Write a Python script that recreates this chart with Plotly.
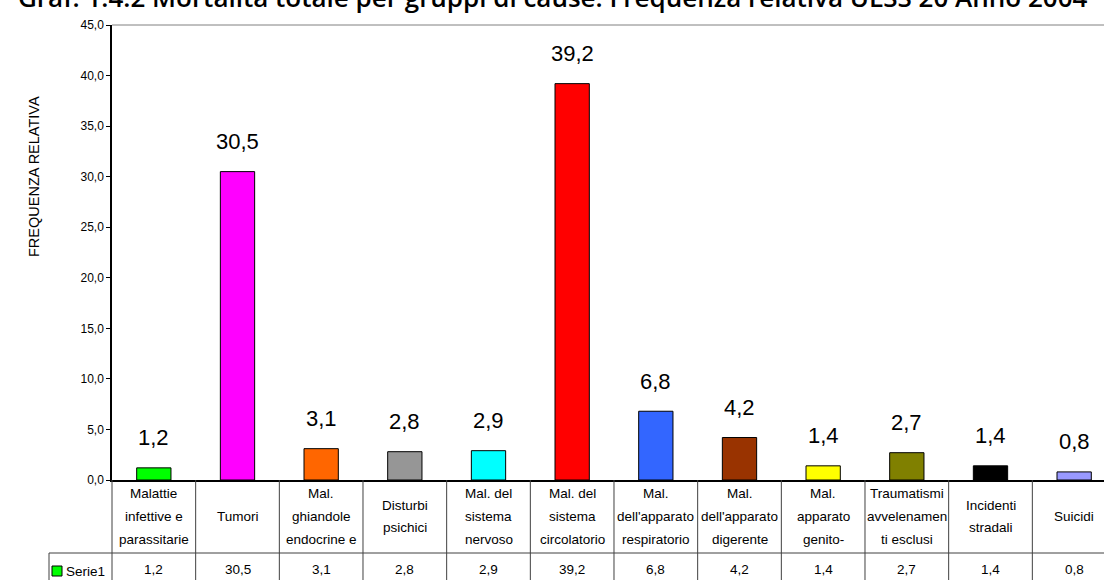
import plotly.graph_objects as go

# Mortality by cause groups, relative frequency (%)
categories = [
    "Malattie<br>infettive e<br>parassitarie",
    "Tumori",
    "Mal.<br>ghiandole<br>endocrine e",
    "Disturbi<br>psichici",
    "Mal. del<br>sistema<br>nervoso",
    "Mal. del<br>sistema<br>circolatorio",
    "Mal.<br>dell'apparato<br>respiratorio",
    "Mal.<br>dell'apparato<br>digerente",
    "Mal.<br>apparato<br>genito-",
    "Traumatismi<br>avvelenamen<br>ti esclusi",
    "Incidenti<br>stradali",
    "Suicidi",
]
values = [1.2, 30.5, 3.1, 2.8, 2.9, 39.2, 6.8, 4.2, 1.4, 2.7, 1.4, 0.8]
bar_colors = ["#00FF00", "#FF00FF", "#FF6600", "#969696", "#00FFFF", "#FF0000",
              "#3366FF", "#993300", "#FFFF00", "#808000", "#000000", "#9999FF"]
series_name = "Serie1"
title_text = "Graf. 1.4.2 Mortalità totale per gruppi di cause. Frequenza relativa ULSS 20 Anno 2004"
y_title = "FREQUENZA RELATIVA"

W, H = 1104, 580
L, R, T, B = 112, 0, 25, 100
plot_w = W - L - R
plot_h = H - T - B
n = len(categories)
x_hi = n - 0.5 - 12 / 83.7  # the last column runs past the right edge
x_span = x_hi + 0.5


def px_x(p):
    return (p - L) / plot_w


def px_y(p):
    return (H - B - p) / plot_h


def fmt(v):
    return f"{v:.1f}".replace(".", ",")


SANS = "Liberation Sans, Arial, sans-serif"

fig = go.Figure()
fig.add_trace(go.Bar(
    x=list(range(n)), y=values, width=0.41,
    marker=dict(color=bar_colors, line=dict(color="#000000", width=1)),
    showlegend=False, hoverinfo="skip",
))

annotations = []
shapes = []

# value labels above the bars
for i, v in enumerate(values):
    annotations.append(dict(x=i, y=v, xref="x", yref="y", text=fmt(v), showarrow=False,
                            yshift=30, yanchor="middle",
                            font=dict(family=SANS, size=22, color="#000000")))

# data table: category row
row_top, row_mid, row_bot = 480, 553, 580
line_gap = 22.5
for i, cat in enumerate(categories):
    lines = cat.split("<br>")
    center = (row_top + row_mid) / 2
    start = center - line_gap * (len(lines) - 1) / 2
    for k, ln in enumerate(lines):
        annotations.append(dict(x=i, y=px_y(start + k * line_gap), xref="x", yref="paper",
                                text=ln, showarrow=False, yanchor="middle",
                                font=dict(family=SANS, size=13.5, color="#000000")))
    # values row
    annotations.append(dict(x=i, y=px_y((row_mid + row_bot) / 2 + 3), xref="x", yref="paper",
                            text=fmt(values[i]), showarrow=False, yanchor="middle",
                            font=dict(family=SANS, size=13.5, color="#000000")))

# table grid lines
grid = dict(color="#404040", width=1)
for i in range(n + 1):
    xp = i / x_span
    if xp <= 1:
        shapes.append(dict(type="line", xref="paper", yref="paper", x0=xp, x1=xp,
                           y0=px_y(row_top), y1=px_y(row_bot + 2), line=grid))
legend_left = 49
shapes.append(dict(type="line", xref="paper", yref="paper", x0=px_x(legend_left), x1=1,
                   y0=px_y(row_mid), y1=px_y(row_mid), line=grid))
shapes.append(dict(type="line", xref="paper", yref="paper", x0=px_x(legend_left),
                   x1=px_x(legend_left), y0=px_y(row_mid), y1=px_y(row_bot + 2), line=grid))

# legend key inside the table
shapes.append(dict(type="rect", xref="paper", yref="paper", x0=px_x(52), x1=px_x(62),
                   y0=px_y(576), y1=px_y(566), fillcolor=bar_colors[0],
                   line=dict(color="#000000", width=1)))
annotations.append(dict(x=px_x(64), y=px_y(571), xref="paper", yref="paper", text=series_name,
                        showarrow=False, xanchor="left", yanchor="middle",
                        font=dict(family=SANS, size=13.5, color="#000000")))

# plot area top border
shapes.append(dict(type="line", xref="paper", yref="paper", x0=0, x1=1, y0=1, y1=1,
                   line=dict(color="#808080", width=1)))

# axis title
annotations.append(dict(x=px_x(24), y=px_y(177), xref="paper", yref="paper", text=y_title,
                        textangle=-90, showarrow=False,
                        font=dict(family=SANS, size=14.5, color="#000000")))

# chart title (partly above the page)
annotations.append(dict(x=px_x(552), y=px_y(-3), xref="paper", yref="paper", text=title_text,
                        showarrow=False, yanchor="middle",
                        font=dict(family="Open Sans, sans-serif", size=26, color="#000000",
                                  weight=600)))

fig.update_layout(
    width=W, height=H,
    margin=dict(l=L, r=R, t=T, b=B, pad=0),
    paper_bgcolor="#FFFFFF", plot_bgcolor="#FFFFFF",
    separators=",.",
    showlegend=False,
    xaxis=dict(range=[-0.5, x_hi], showticklabels=False, ticks="", showgrid=False,
               zeroline=False, showline=True, linecolor="#000000", linewidth=1.5,
               fixedrange=True),
    yaxis=dict(range=[0, 45], dtick=5, tickformat=".1f", ticks="outside", ticklen=4,
               tickcolor="#000000", showgrid=False, zeroline=False, showline=True,
               linecolor="#000000", linewidth=1.5,
               tickfont=dict(family=SANS, size=12, color="#000000"),
               fixedrange=True),
    annotations=annotations,
    shapes=shapes,
    bargap=0.5,
)

fig.write_html("out.html")
